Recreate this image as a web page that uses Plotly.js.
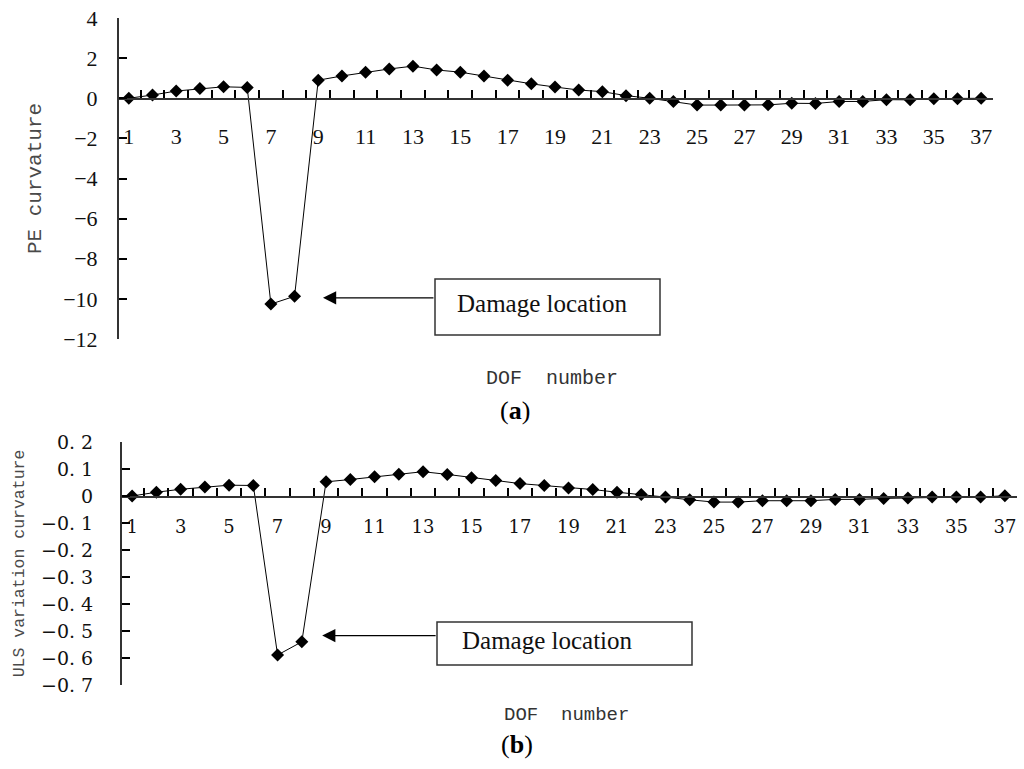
<!DOCTYPE html>
<html>
<head>
<meta charset="utf-8">
<script src="https://cdn.plot.ly/plotly-3.0.1.min.js"></script>
<style>
  html, body { margin: 0; padding: 0; background: #fff; }
  #graph { width: 1024px; height: 769px; }
</style>
</head>
<body>
<div id="graph"></div>
<script>
// DOF numbers 1..37
const dof = [1, 2, 3, 4, 5, 6, 7, 8, 9, 10, 11, 12, 13, 14, 15, 16, 17, 18, 19,
  20, 21, 22, 23, 24, 25, 26, 27, 28, 29, 30, 31, 32, 33, 34, 35, 36, 37];

// (a) PE curvature
const peCurvature = [0, 0.16, 0.36, 0.48, 0.57, 0.54, -10.26, -9.87, 0.9, 1.11,
  1.3, 1.46, 1.6, 1.41, 1.3, 1.11, 0.9, 0.72, 0.56, 0.41,
  0.33, 0.13, 0, -0.16, -0.34, -0.34, -0.34, -0.33, -0.25, -0.26,
  -0.16, -0.16, -0.07, -0.08, -0.02, -0.02, 0];

// (b) ULS variation curvature
const ulsCurvature = [0, 0.014, 0.025, 0.033, 0.04, 0.039, -0.589, -0.54, 0.0525, 0.061,
  0.071, 0.081, 0.09, 0.08, 0.0675, 0.0575, 0.046, 0.039, 0.03, 0.024,
  0.014, 0.006, -0.004, -0.014, -0.0225, -0.0225, -0.0175, -0.0175, -0.0175, -0.0125,
  -0.0125, -0.009, -0.0075, -0.004, -0.004, -0.004, 0.001];

const xTickVals = [1, 3, 5, 7, 9, 11, 13, 15, 17, 19, 21, 23, 25, 27, 29, 31, 33, 35, 37];
const ulsTickVals = [0.2, 0.1, 0, -0.1, -0.2, -0.3, -0.4, -0.5, -0.6, -0.7];
const ulsTickText = ["0. 2", "0. 1", "0", "\u22120. 1", "\u22120. 2", "\u22120. 3",
  "\u22120. 4", "\u22120. 5", "\u22120. 6", "\u22120. 7"];

const W = 1024, H = 769;
// plot boxes in pixels (left, right, top, bottom)
const boxA = { l: 117, r: 993, t: 18, b: 339 };
const boxB = { l: 120, r: 1017, t: 442, b: 685 };
const rangeA = [-12, 4];
const rangeB = [-0.7, 0.2];

function dom(box) {
  return {
    x: [box.l / W, box.r / W],
    y: [1 - box.b / H, 1 - box.t / H]
  };
}
const dA = dom(boxA), dB = dom(boxB);
// where y = 0 sits in paper coordinates (x axis crosses there)
const zeroA = dA.y[0] + (0 - rangeA[0]) / (rangeA[1] - rangeA[0]) * (dA.y[1] - dA.y[0]);
const zeroB = dB.y[0] + (0 - rangeB[0]) / (rangeB[1] - rangeB[0]) * (dB.y[1] - dB.y[0]);

const serif = "Liberation Serif, Times New Roman, serif";
const mono = "Liberation Mono, monospace";
const tickColor = "#000";

const line = { color: "#000", width: 1 };
const marker = { symbol: "diamond", size: 10, color: "#000" };

const traceA = {
  x: dof, y: peCurvature, xaxis: "x", yaxis: "y",
  mode: "lines+markers", type: "scatter",
  line: line, marker: marker, hoverinfo: "x+y"
};
const traceB = {
  x: dof, y: ulsCurvature, xaxis: "x2", yaxis: "y2",
  mode: "lines+markers", type: "scatter",
  line: line, marker: marker, hoverinfo: "x+y"
};

// labels on odd DOFs, tick marks between the DOFs
function xAxis(d, zero, fontSize, font, standoff) {
  return {
    domain: d.x, range: [0.5, 37.5], anchor: "free", position: zero,
    showline: true, linecolor: "#333", linewidth: 1.5,
    showgrid: false, zeroline: false,
    tickmode: "array", tickvals: xTickVals,
    ticks: "inside", ticklen: 7, tickwidth: 1.5, tickcolor: "rgba(255,255,255,0)",
    ticklabelstandoff: standoff,
    tickfont: { family: font, size: fontSize, color: "#111" },
    minor: { tickmode: "linear", tick0: 0.5, dtick: 1, ticks: "inside", ticklen: 8, tickwidth: 2, tickcolor: tickColor, showgrid: false },
    fixedrange: true
  };
}

function yAxis(d, x0, extra) {
  return Object.assign({
    domain: d.y, anchor: "free", position: x0,
    showline: true, linecolor: "#333", linewidth: 1.5,
    showgrid: false, zeroline: false,
    ticks: "inside", ticklen: 8, tickwidth: 2, tickcolor: tickColor,
    fixedrange: true
  }, extra);
}

function note(px, py, text, font) {
  return { xref: "paper", yref: "paper", x: px / W, y: 1 - py / H, xanchor: "center", yanchor: "middle",
    text: text, showarrow: false, font: font };
}

const layout = {
  width: W, height: H,
  margin: { l: 0, r: 0, t: 0, b: 0 },
  paper_bgcolor: "#fff", plot_bgcolor: "#fff",
  showlegend: false,
  xaxis: xAxis(dA, zeroA, 22, serif, 18),
  xaxis2: xAxis(dB, zeroB, 18, "DejaVu Serif, serif", 14),
  yaxis: yAxis(dA, dA.x[0], {
    range: rangeA, tickmode: "linear", tick0: 0, dtick: 2,
    ticklabelstandoff: 15,
    tickfont: { family: serif, size: 22, color: "#111" },
    title: { text: "PE curvature", font: { family: mono, size: 21, color: "#4a4a4a" }, standoff: 14 }
  }),
  yaxis2: yAxis(dB, dB.x[0], {
    range: rangeB, tickmode: "array", tickvals: ulsTickVals, ticktext: ulsTickText,
    ticklabelstandoff: 23,
    tickfont: { family: "DejaVu Serif, serif", size: 19, color: "#111" },
    title: { text: "ULS variation curvature", font: { family: mono, size: 16.5, color: "#4a4a4a" }, standoff: 10 }
  }),
  shapes: [
    { type: "rect", xref: "paper", yref: "paper", x0: 435 / W, x1: 660 / W, y0: 1 - 335 / H, y1: 1 - 279 / H,
      line: { color: "#333", width: 1.5 }, fillcolor: "#fff" },
    { type: "rect", xref: "paper", yref: "paper", x0: 437 / W, x1: 692 / W, y0: 1 - 665 / H, y1: 1 - 622 / H,
      line: { color: "#333", width: 1.5 }, fillcolor: "#fff" }
  ],
  annotations: [
    // arrows pointing at the damaged DOFs
    { xref: "x", yref: "y", x: 9.2, y: -9.95, axref: "x", ayref: "y", ax: 13.93, ay: -9.95,
      text: "", showarrow: true, arrowhead: 2, arrowsize: 2.2, arrowwidth: 1.2, arrowcolor: "#000" },
    { xref: "x2", yref: "y2", x: 8.84, y: -0.517, axref: "x2", ayref: "y2", ax: 13.58, ay: -0.517,
      text: "", showarrow: true, arrowhead: 2, arrowsize: 2.2, arrowwidth: 1.2, arrowcolor: "#000" },
    note(542, 303, "Damage location", { family: serif, size: 25, color: "#111" }),
    note(547, 640, "Damage location", { family: serif, size: 25, color: "#111" }),
    note(552, 379, "DOF  number", { family: mono, size: 20, color: "#333" }),
    note(566, 715, "DOF  number", { family: mono, size: 19, color: "#333" }),
    note(515, 410, "(<b>a</b>)", { family: serif, size: 26, color: "#000" }),
    note(517, 744, "(<b>b</b>)", { family: serif, size: 26, color: "#000" })
  ]
};

Plotly.newPlot("graph", [traceA, traceB], layout, { displayModeBar: false, staticPlot: true });
</script>
</body>
</html>
